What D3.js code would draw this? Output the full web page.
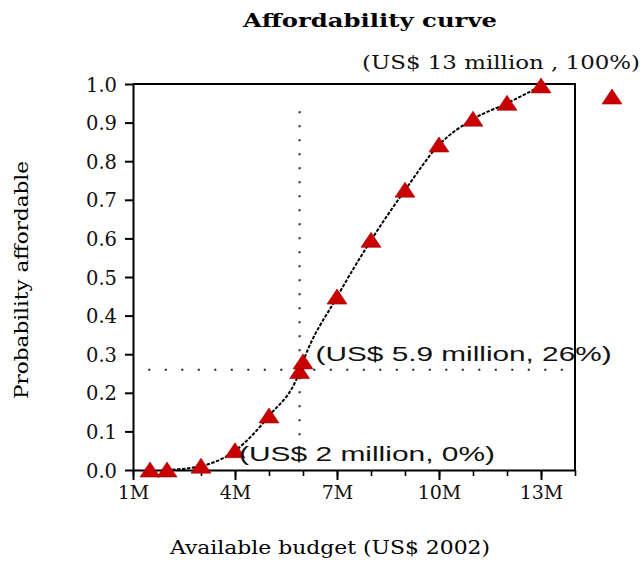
<!DOCTYPE html>
<html>
<head>
<meta charset="utf-8">
<script src="https://cdn.jsdelivr.net/npm/d3@7"></script>
<style>
  html, body { margin: 0; padding: 0; background: #fff; }
  svg { display: block; }
</style>
</head>
<body>
<svg id="chart" width="643" height="565"></svg>
<script>
// ---- data ----
const budgetM = [1.5, 2, 3, 4, 5, 5.9, 6, 7, 8, 9, 10, 11, 12, 13];
const probAffordable = [0, 0, 0.01, 0.05, 0.14, 0.255, 0.28, 0.448, 0.595, 0.725, 0.842, 0.909, 0.95, 0.995];
const yTickValues = [0, 0.1, 0.2, 0.3, 0.4, 0.5, 0.6, 0.7, 0.8, 0.9, 1.0];
const xMinorTicks = [1, 2, 3, 4, 5, 6, 7, 8, 9, 10, 11, 12, 13, 14];
const xMajorTicks = [1, 4, 7, 10, 13];
const xTickLabels = ["1M", "4M", "7M", "10M", "13M"];
const markerBudget = 5.9, markerProb = 0.26;
const annotations = [
  { text: "(US$ 2 million, 0%)", x: 4, y: 0.0 },
  { text: "(US$ 5.9 million, 26%)", x: 5.9, y: 0.26 },
  { text: "(US$ 13 million , 100%)", x: 13, y: 1.0 }
];

const svg = d3.select("#chart");
const x = d3.scaleLinear().domain([1, 14]).range([133, 575]);
const y = d3.scaleLinear().domain([0, 1]).range([470, 84]);
const serif = "'DejaVu Serif', 'Liberation Serif', serif";
const sans = "'Liberation Sans', 'DejaVu Sans', sans-serif";
const red = "#c80000";

// title
svg.append("text").attr("x", 370).attr("y", 27).attr("text-anchor", "middle")
  .attr("font-family", serif).attr("font-weight", "bold").attr("font-size", 19)
  .attr("textLength", 254).attr("lengthAdjust", "spacingAndGlyphs")
  .text("Affordability curve");

// reference dotted lines
svg.append("line")
  .attr("x1", x(markerBudget)).attr("x2", x(markerBudget))
  .attr("y1", y(0.09)).attr("y2", y(0.945))
  .attr("stroke", "#222").attr("stroke-width", 2).attr("stroke-dasharray", "2,12");
svg.append("line")
  .attr("x1", x(1.45)).attr("x2", x(14))
  .attr("y1", y(markerProb)).attr("y2", y(markerProb))
  .attr("stroke", "#222").attr("stroke-width", 2).attr("stroke-dasharray", "2,14.5");

// frame (top and right)
svg.append("path")
  .attr("d", `M${x(1)},${y(1)}H${x(14)}V${y(0)}`)
  .attr("fill", "none").attr("stroke", "#000").attr("stroke-width", 2);

// y axis
const yAxis = svg.append("g").attr("transform", `translate(${x(1)},0)`)
  .call(d3.axisLeft(y).tickValues(yTickValues).tickFormat(d3.format(".1f")).tickSize(8).tickSizeOuter(0).tickPadding(8));
yAxis.select(".domain").attr("stroke-width", 2);
yAxis.selectAll(".tick line").attr("stroke-width", 2);
yAxis.selectAll("text").attr("font-family", serif).attr("font-size", 19.5).attr("fill", "#111").attr("dy", "0.36em");

// x axis minor ticks
const xMinor = svg.append("g").attr("transform", `translate(0,${y(0)})`)
  .call(d3.axisBottom(x).tickValues(xMinorTicks).tickFormat("").tickSize(6).tickSizeOuter(0));
xMinor.select(".domain").attr("stroke-width", 2);
xMinor.selectAll(".tick line").attr("stroke-width", 1.6);
// x axis major ticks + labels
const xMajor = svg.append("g").attr("transform", `translate(0,${y(0)})`)
  .call(d3.axisBottom(x).tickValues(xMajorTicks).tickFormat((d, i) => xTickLabels[i]).tickSize(10).tickSizeOuter(0).tickPadding(6));
xMajor.select(".domain").remove();
xMajor.selectAll(".tick line").attr("stroke-width", 2);
xMajor.selectAll("text").attr("font-family", serif).attr("font-size", 19).attr("fill", "#111");

// axis titles
svg.append("text").attr("x", 330).attr("y", 554).attr("text-anchor", "middle")
  .attr("font-family", serif).attr("font-size", 19)
  .attr("textLength", 320).attr("lengthAdjust", "spacingAndGlyphs")
  .text("Available budget (US$ 2002)");
svg.append("text").attr("transform", "translate(28,280) rotate(-90)").attr("text-anchor", "middle")
  .attr("font-family", serif).attr("font-size", 19)
  .attr("textLength", 238).attr("lengthAdjust", "spacingAndGlyphs")
  .text("Probability affordable");

// fitted curve
const pts = budgetM.map((b, i) => [b, probAffordable[i]]).slice(1);
const line = d3.line().x(d => x(d[0])).y(d => y(d[1])).curve(d3.curveMonotoneX);
svg.append("path").attr("d", line(pts))
  .attr("fill", "none").attr("stroke", "#000").attr("stroke-width", 2)
  .attr("stroke-dasharray", "3.5,1.5");

// triangle markers
const tri = (cx, cy) => `M${cx},${cy - 8}L${cx + 10},${cy + 7}L${cx - 10},${cy + 7}Z`;
svg.append("g").selectAll("path").data(budgetM).join("path")
  .attr("d", (b, i) => tri(x(b), y(probAffordable[i])))
  .attr("fill", red).attr("stroke", "#a00000").attr("stroke-width", 0.6);

// legend marker
svg.append("path").attr("d", tri(612, 97)).attr("fill", red).attr("stroke", "#a00000").attr("stroke-width", 0.6);

// annotations
svg.append("text").attr("x", x(annotations[0].x) + 4).attr("y", y(annotations[0].y) - 9)
  .attr("font-family", sans).attr("font-size", 21).attr("fill", "#111")
  .attr("textLength", 256).attr("lengthAdjust", "spacingAndGlyphs")
  .text(annotations[0].text);
svg.append("text").attr("x", x(annotations[1].x) + 16).attr("y", y(annotations[1].y) - 9)
  .attr("font-family", sans).attr("font-size", 21).attr("fill", "#111")
  .attr("textLength", 296).attr("lengthAdjust", "spacingAndGlyphs")
  .text(annotations[1].text);
svg.append("text").attr("x", 640).attr("y", y(annotations[2].y) - 15).attr("text-anchor", "end")
  .attr("font-family", serif).attr("font-size", 19).attr("fill", "#111")
  .attr("textLength", 278).attr("lengthAdjust", "spacingAndGlyphs")
  .text(annotations[2].text);
</script>
</body>
</html>
